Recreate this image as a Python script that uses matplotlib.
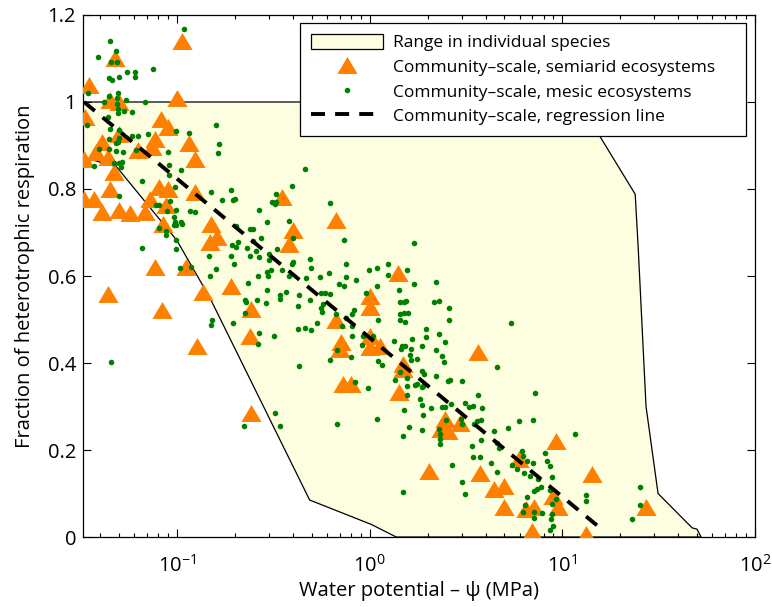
import numpy as np
import matplotlib
matplotlib.use('Agg')
import matplotlib.pyplot as plt
from matplotlib.patches import Polygon, Patch
from matplotlib.lines import Line2D

plt.rcParams['font.family'] = ['Open Sans', 'DejaVu Sans']

# range in individual species (polygon outline)
range_x = [0.0326, 12.2, 23.9, 24.8, 27.2, 31.4, 47.2, 50.0, 52.5,
           1.375, 1.02, 0.489, 0.148, 0.100, 0.0487, 0.0326]
range_y = [1.0, 1.0, 0.788, 0.66, 0.30, 0.10, 0.021, 0.018, 0.0,
           0.0, 0.029, 0.085, 0.551, 0.682, 0.851, 0.873]

# community-scale semiarid ecosystems (triangles)
tri_x = [0.107, 0.048, 0.035, 0.045, 0.050, 0.100, 0.0335, 0.083, 0.090, 0.050,
         0.041, 0.077, 0.116, 0.038, 0.063, 0.074, 0.0328, 0.044, 0.124, 0.047,
         0.045, 0.0805, 0.090, 0.124, 0.0328, 0.037, 0.041, 0.050, 0.057, 0.068,
         0.0725, 0.088, 0.085, 0.151, 0.161, 0.148, 0.40, 0.38, 0.35, 0.672,
         0.077, 0.112, 0.192, 0.137, 0.0437, 1.40, 1.0, 1.0, 0.084, 0.244,
         0.239, 0.128, 0.244, 0.672, 0.713, 0.70, 1.0, 1.0, 1.13, 0.727,
         0.804, 1.43, 1.49, 1.49, 2.04, 3.67, 2.45, 2.55, 2.93, 2.35,
         3.72, 4.44, 5.0, 5.0, 5.99, 6.49, 7.16, 6.93, 9.28, 8.91,
         9.46, 13.3, 14.3, 27.2]
tri_y = [1.14, 1.10, 1.04, 1.005, 1.0, 1.01, 0.966, 0.962, 0.943, 0.926,
         0.909, 0.916, 0.905, 0.886, 0.889, 0.897, 0.870, 0.874, 0.870, 0.839,
         0.801, 0.805, 0.801, 0.793, 0.778, 0.778, 0.747, 0.751, 0.744, 0.747,
         0.778, 0.763, 0.720, 0.720, 0.690, 0.678, 0.705, 0.674, 0.782, 0.728,
         0.620, 0.620, 0.578, 0.563, 0.559, 0.607, 0.553, 0.528, 0.522, 0.525,
         0.461, 0.438, 0.286, 0.498, 0.448, 0.432, 0.463, 0.436, 0.440, 0.352,
         0.352, 0.333, 0.398, 0.386, 0.152, 0.425, 0.271, 0.244, 0.263, 0.248,
         0.148, 0.110, 0.117, 0.068, 0.179, 0.064, 0.068, 0.014, 0.221, 0.094,
         0.068, 0.006, 0.145, 0.068]

# community-scale mesic ecosystems (dots)
dot_x = [0.109, 0.0448, 0.0485, 0.0391, 0.0453, 0.0491, 0.0752, 0.0552, 0.0604, 0.0604,
         0.0445, 0.0462, 0.0499, 0.0494, 0.0445, 0.0491, 0.0546, 0.068, 0.0346, 0.0417,
         0.0491, 0.0494, 0.053, 0.0585, 0.0439, 0.0494, 0.0342, 0.160, 0.0448, 0.0501,
         0.0991, 0.115, 0.0708, 0.0585, 0.0628, 0.0501, 0.0445, 0.0481, 0.0494, 0.166,
         0.0394, 0.0445, 0.0485, 0.0525, 0.0615, 0.0898, 0.163, 0.0475, 0.0501, 0.0519,
         0.0514, 0.037, 0.0916, 0.105, 0.091, 0.0661, 0.0973, 0.191, 0.151,
         0.0501, 0.0923, 0.0782, 0.0813, 0.0985, 0.0887, 0.117, 0.124, 0.172, 0.195,
         0.200, 0.268, 0.0962, 0.0973, 0.105, 0.106, 0.0962, 0.0991, 0.0807, 0.0881,
         0.0881, 0.0991, 0.203, 0.241, 0.248, 0.272, 0.248, 0.194, 0.203, 0.208,
         0.231, 0.258, 0.268, 0.190, 0.241, 0.147, 0.0991, 0.0661, 0.199, 0.1045,
         0.160, 0.118, 0.148, 0.263, 0.233, 0.227, 0.229, 0.260, 0.226, 0.195,
         0.152, 0.151, 0.266, 0.263, 0.0457, 0.222,
         0.46, 0.396, 0.327, 0.312, 0.327, 0.324, 0.625, 0.294, 0.384, 0.399,
         0.741, 1.70, 0.330, 0.300, 0.302, 0.493, 0.399, 0.396, 0.496, 0.754,
         0.99, 1.087, 1.24, 1.24, 1.57, 0.308, 0.296, 0.292, 0.351, 0.384,
         0.468, 0.553, 0.613, 0.754, 0.849, 0.697, 0.741, 1.09, 1.71, 2.20,
         0.292, 0.368, 0.343, 0.343, 0.429, 0.560, 0.589, 0.625, 0.493, 0.957,
         1.43, 0.290, 0.427, 0.571, 0.560, 0.564, 0.834, 0.810, 0.669, 1.44,
         1.51, 1.54, 2.15, 2.28, 1.44, 1.51, 1.59, 1.44, 1.53, 1.10,
         0.533, 0.754, 0.424, 0.464, 0.496, 0.718, 0.810, 1.96,
         0.321, 0.432, 0.625, 0.675, 0.804, 0.810, 0.920, 0.909, 1.036, 1.10,
         1.16, 0.839, 0.98, 0.322, 0.343, 0.677, 1.09, 1.50, 1.34, 1.45,
         1.48, 1.53, 1.64, 1.62, 1.87, 1.67, 1.96, 2.21, 2.30, 1.44,
         1.36, 1.56, 1.64, 1.77, 1.88, 1.92, 1.72, 1.76, 1.87, 1.90,
         1.57, 2.21, 1.82, 1.87, 2.08, 1.57, 1.51, 1.90, 2.37, 1.61,
         1.87, 1.50, 2.30, 2.31, 2.32, 2.32,
         2.57, 2.57, 5.44, 2.47, 2.39, 2.44, 4.61, 2.54, 2.60, 3.0,
         3.67, 7.19, 2.64, 3.12, 3.28, 3.45, 3.85, 2.47, 3.63, 3.77,
         3.49, 5.97, 7.05, 5.23, 4.43, 2.97, 3.0, 2.50,
         11.7, 3.42, 3.80, 4.61, 4.70, 3.45, 3.73, 2.67, 4.25, 4.57,
         5.46, 5.82, 6.21, 6.28, 6.53, 7.05, 8.13, 8.29, 8.59, 6.33,
         6.77, 7.48, 8.87, 3.0, 3.12, 7.13, 7.43, 7.72, 8.59, 9.23,
         6.59, 6.41, 6.24, 7.13, 7.13, 7.81, 8.87, 8.87, 8.75, 9.0,
         8.66, 13.3, 13.3, 25.2, 25.2, 23.1]
dot_y = [1.167, 1.141, 1.118, 1.104, 1.091, 1.091, 1.076, 1.070, 1.070, 1.058,
         1.055, 1.051, 1.058, 1.020, 1.014, 1.009, 1.005, 1.001, 1.020, 0.999,
         0.995, 0.985, 0.979, 0.978, 0.966, 0.974, 0.947, 0.947, 0.939, 0.935,
         0.933, 0.928, 0.926, 0.922, 0.922, 0.918, 0.914, 0.905, 0.909, 0.903,
         0.891, 0.891, 0.887, 0.884, 0.889, 0.884, 0.882, 0.860, 0.860, 0.862,
         0.851, 0.853, 0.855, 0.843, 0.833, 0.818, 0.805, 0.797, 0.792,
         0.784, 0.772, 0.764, 0.764, 0.751, 0.749, 0.749, 0.747, 0.774, 0.774,
         0.776, 0.751, 0.736, 0.724, 0.724, 0.719, 0.718, 0.717, 0.711, 0.703,
         0.694, 0.682, 0.714, 0.709, 0.709, 0.688, 0.680, 0.672, 0.667, 0.678,
         0.665, 0.657, 0.644, 0.647, 0.647, 0.645, 0.663, 0.664, 0.628, 0.619,
         0.615, 0.621, 0.601, 0.601, 0.585, 0.544, 0.541, 0.544, 0.515, 0.492,
         0.500, 0.488, 0.468, 0.444, 0.402, 0.256,
         0.845, 0.806, 0.788, 0.770, 0.770, 0.765, 0.768, 0.725, 0.726, 0.687,
         0.682, 0.677, 0.663, 0.651, 0.636, 0.640, 0.632, 0.627, 0.618, 0.628,
         0.613, 0.618, 0.627, 0.602, 0.613, 0.613, 0.599, 0.609, 0.613, 0.600,
         0.595, 0.597, 0.607, 0.597, 0.591, 0.582, 0.577, 0.576, 0.581, 0.587,
         0.567, 0.563, 0.557, 0.548, 0.557, 0.561, 0.561, 0.558, 0.545, 0.561,
         0.567, 0.538, 0.531, 0.536, 0.527, 0.517, 0.522, 0.512, 0.512, 0.541,
         0.541, 0.542, 0.541, 0.542, 0.513, 0.515, 0.516, 0.498, 0.494, 0.500,
         0.491, 0.503, 0.478, 0.481, 0.476, 0.484, 0.484, 0.478,
         0.463, 0.394, 0.407, 0.430, 0.413, 0.461, 0.463, 0.442, 0.463, 0.404,
         0.396, 0.357, 0.343, 0.286, 0.256, 0.260, 0.271, 0.104, 0.450, 0.432,
         0.438, 0.440, 0.432, 0.419, 0.438, 0.456, 0.459, 0.430, 0.467, 0.379,
         0.361, 0.365, 0.406, 0.409, 0.382, 0.375, 0.350, 0.352, 0.344, 0.348,
         0.346, 0.371, 0.317, 0.304, 0.297, 0.326, 0.293, 0.280, 0.298, 0.252,
         0.247, 0.233, 0.248, 0.237, 0.225, 0.214,
         0.526, 0.498, 0.492, 0.449, 0.417, 0.403, 0.390, 0.359, 0.361, 0.359,
         0.327, 0.332, 0.306, 0.307, 0.298, 0.302, 0.296, 0.300, 0.267, 0.269,
         0.260, 0.267, 0.270, 0.250, 0.244, 0.271, 0.260, 0.269,
         0.237, 0.210, 0.223, 0.217, 0.204, 0.183, 0.185, 0.166, 0.170, 0.149,
         0.166, 0.156, 0.198, 0.187, 0.174, 0.169, 0.194, 0.175, 0.164, 0.148,
         0.141, 0.133, 0.137, 0.127, 0.100, 0.106, 0.110, 0.115, 0.108, 0.087,
         0.091, 0.074, 0.058, 0.058, 0.043, 0.056, 0.075, 0.054, 0.041, 0.026,
         0.015, 0.097, 0.083, 0.115, 0.074, 0.041]

# community-scale regression line (end points)
reg_x = [0.033, 15.8]
reg_y = [1.0, 0.02]

y_ticks = [0, 0.2, 0.4, 0.6, 0.8, 1.0, 1.2]
y_ticklabels = ['0', '0.2', '0.4', '0.6', '0.8', '1', '1.2']

fill_color = '#fdfddf'
tri_color = '#ff7f00'
dot_color = '#008000'

fig = plt.figure(figsize=(7.72, 6.07), dpi=100)
ax = fig.add_axes([0.1075, 0.1153, 0.8705, 0.8600])

poly = Polygon(np.column_stack([range_x, range_y]), closed=True,
               facecolor=fill_color, edgecolor='black', linewidth=0.9, zorder=1)
ax.add_patch(poly)

tri_marker = [(0, 0.42), (-0.5, -0.42), (0.5, -0.42)]
tri_size = 14.5
dot_size = 4.0
ax.plot(tri_x, tri_y, linestyle='none', marker=tri_marker, markersize=tri_size,
        markerfacecolor=tri_color, markeredgewidth=0, zorder=3)
ax.plot(dot_x, dot_y, linestyle='none', marker='o', markersize=dot_size,
        markerfacecolor=dot_color, markeredgewidth=0, zorder=4)
ax.plot(reg_x, reg_y, color='black', linewidth=2.8, dashes=(3.6, 2.6), zorder=5)

ax.set_xscale('log')
ax.set_xlim(0.0326, 100)
ax.set_ylim(0, 1.2)
ax.set_yticks(y_ticks)
ax.set_yticklabels(y_ticklabels)
ax.set_xticks([0.1, 1, 10, 100])

ax.tick_params(which='both', direction='in', top=True, right=True, labelsize=14.5)
ax.tick_params(which='major', length=6, width=0.8)
ax.tick_params(which='minor', length=3, width=0.8)
ax.tick_params(axis='x', pad=13)
ax.tick_params(axis='y', pad=5)
for sp in ax.spines.values():
    sp.set_linewidth(0.9)

ax.set_xlabel('Water potential \u2013 \u03c8 (MPa)', fontsize=14.5, labelpad=3)
ax.set_ylabel('Fraction of heterotrophic respiration', fontsize=14.5, labelpad=9)

handles = [
    Patch(facecolor=fill_color, edgecolor='black', linewidth=0.9),
    Line2D([], [], linestyle='none', marker=tri_marker, markersize=tri_size,
           markerfacecolor=tri_color, markeredgewidth=0),
    Line2D([], [], linestyle='none', marker='o', markersize=dot_size,
           markerfacecolor=dot_color, markeredgewidth=0),
    Line2D([], [], color='black', linewidth=2.8, dashes=(3.6, 2.6)),
]
labels = ['Range in individual species',
          'Community\u2013scale, semiarid ecosystems',
          'Community\u2013scale, mesic ecosystems',
          'Community\u2013scale, regression line']
leg = ax.legend(handles, labels, loc='upper left', mode='expand',
                bbox_to_anchor=(0.323, 0.77, 0.664, 0.215),
                borderaxespad=0, fontsize=12.5, frameon=True, fancybox=False,
                framealpha=1, edgecolor='black', handlelength=4.15,
                handleheight=1.0, handletextpad=0.6, labelspacing=0.4,
                borderpad=0.62)
leg.get_frame().set_linewidth(0.9)
leg.set_zorder(10)

fig.savefig('out.png', dpi=100)
